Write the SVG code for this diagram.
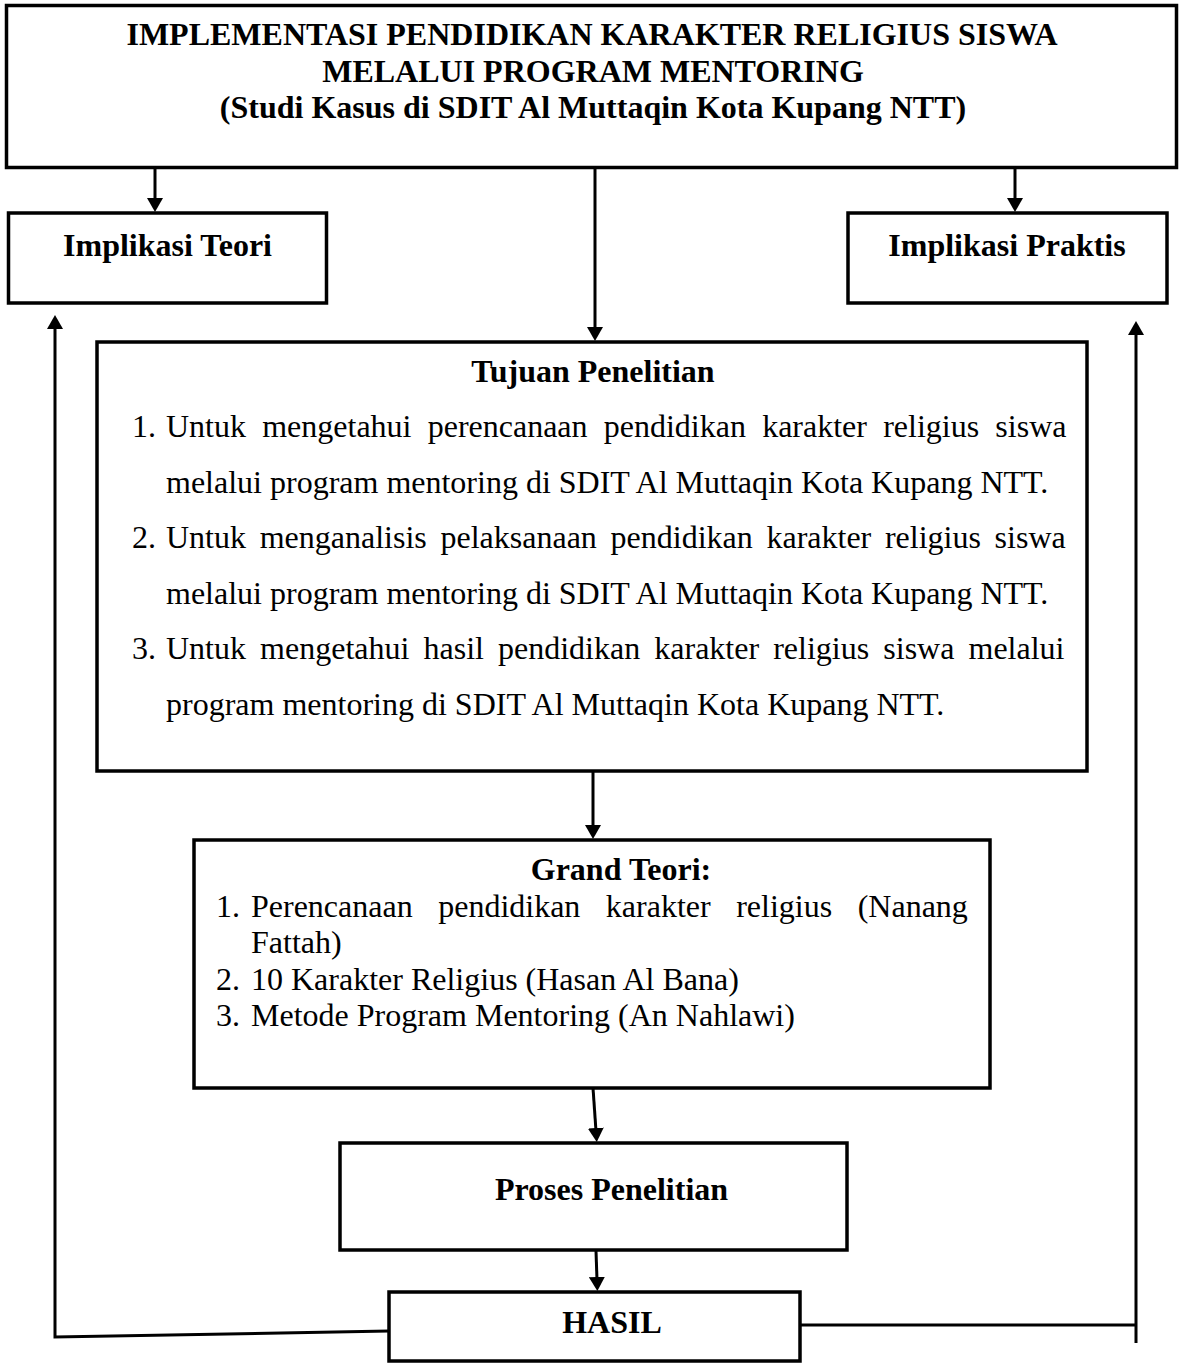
<svg xmlns="http://www.w3.org/2000/svg" width="1183" height="1364" viewBox="0 0 1183 1364">
<style>
.box{fill:#fff;stroke:#000;stroke-width:3.5}
.t{font-family:"Liberation Serif","Times New Roman",serif;font-size:32px;fill:#000}
.b{font-weight:bold}
.c{text-anchor:middle}
.ln{fill:none;stroke:#000;stroke-width:3}
</style>
<defs>
<marker id="ah" markerUnits="userSpaceOnUse" markerWidth="14" markerHeight="16" refX="3" refY="8" orient="auto" viewBox="0 0 14 16">
<path d="M0,0 L14,8 L0,16 z" fill="#000"/>
</marker>
</defs>
<rect width="1183" height="1364" fill="#fff"/>

<g id="connectors">
<line class="ln" x1="155" y1="168" x2="155" y2="201" marker-end="url(#ah)"/>
<line class="ln" x1="1015" y1="168" x2="1015" y2="201" marker-end="url(#ah)"/>
<line class="ln" x1="595" y1="168" x2="595" y2="330" marker-end="url(#ah)"/>
<line class="ln" x1="593" y1="772" x2="593" y2="828" marker-end="url(#ah)"/>
<line class="ln" x1="593" y1="1088" x2="596" y2="1131" marker-end="url(#ah)"/>
<line class="ln" x1="596" y1="1251" x2="597" y2="1280" marker-end="url(#ah)"/>
<polyline class="ln" points="389,1331 55,1337 55,326" marker-end="url(#ah)"/>
<line class="ln" x1="800" y1="1325" x2="1136" y2="1325"/>
<line class="ln" x1="1136" y1="1343" x2="1136" y2="332" marker-end="url(#ah)"/>
</g>

<g id="title">
<rect class="box" x="6.5" y="5.5" width="1170" height="162"/>
<text class="t b c" x="592" y="45">IMPLEMENTASI PENDIDIKAN KARAKTER RELIGIUS SISWA</text>
<text class="t b c" x="593" y="82">MELALUI PROGRAM MENTORING</text>
<text class="t b c" x="593" y="118">(Studi Kasus di SDIT Al Muttaqin Kota Kupang NTT)</text>
</g>

<g id="implikasi-teori">
<rect class="box" x="8.5" y="213" width="318" height="90"/>
<text class="t b c" x="167.5" y="256">Implikasi Teori</text>
</g>

<g id="implikasi-praktis">
<rect class="box" x="848" y="213" width="319" height="90"/>
<text class="t b c" x="1007" y="256">Implikasi Praktis</text>
</g>

<g id="tujuan-penelitian">
<rect class="box" x="97" y="342" width="990" height="429"/>
<text class="t b c" x="593" y="382">Tujuan Penelitian</text>
<text class="t" x="132" y="437">1.</text>
<text class="t" x="166" y="437" word-spacing="8.2">Untuk mengetahui perencanaan pendidikan karakter religius siswa</text>
<text class="t" x="166" y="493">melalui program mentoring di SDIT Al Muttaqin Kota Kupang NTT.</text>
<text class="t" x="132" y="548">2.</text>
<text class="t" x="166" y="548" word-spacing="5.7">Untuk menganalisis pelaksanaan pendidikan karakter religius siswa</text>
<text class="t" x="166" y="604">melalui program mentoring di SDIT Al Muttaqin Kota Kupang NTT.</text>
<text class="t" x="132" y="659">3.</text>
<text class="t" x="166" y="659" word-spacing="6.1">Untuk mengetahui hasil pendidikan karakter religius siswa melalui</text>
<text class="t" x="166" y="715">program mentoring di SDIT Al Muttaqin Kota Kupang NTT.</text>
</g>

<g id="grand-teori">
<rect class="box" x="194" y="840" width="796" height="248"/>
<text class="t b c" x="621" y="880">Grand Teori:</text>
<text class="t" x="216" y="917">1.</text>
<text class="t" x="251" y="917" word-spacing="17.5">Perencanaan pendidikan karakter religius (Nanang</text>
<text class="t" x="251" y="953">Fattah)</text>
<text class="t" x="216" y="990">2.</text>
<text class="t" x="251" y="990">10 Karakter Religius (Hasan Al Bana)</text>
<text class="t" x="216" y="1026">3.</text>
<text class="t" x="251" y="1026">Metode Program Mentoring (An Nahlawi)</text>
</g>

<g id="proses-penelitian">
<rect class="box" x="340" y="1143" width="507" height="107"/>
<text class="t b c" x="611.5" y="1200">Proses Penelitian</text>
</g>

<g id="hasil">
<rect class="box" x="389" y="1292" width="411" height="69"/>
<text class="t b c" x="612" y="1333">HASIL</text>
</g>
</svg>
